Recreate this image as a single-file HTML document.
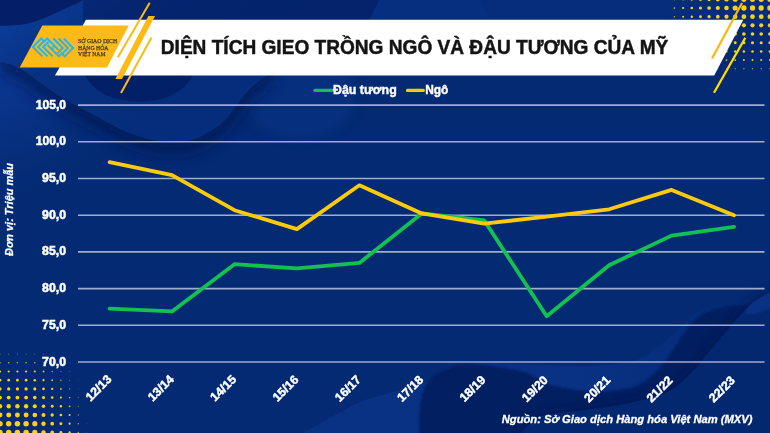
<!DOCTYPE html>
<html><head><meta charset="utf-8"><title>Chart</title>
<style>
html,body{margin:0;padding:0;background:#032a72;}
body{width:770px;height:433px;overflow:hidden;font-family:"Liberation Sans",sans-serif;}
svg{display:block}
text{font-family:"Liberation Sans",sans-serif;}
</style></head><body>
<svg width="770" height="433" viewBox="0 0 770 433" style="opacity:0.999">
<defs>
<filter id="b1" x="-20%" y="-20%" width="140%" height="140%"><feGaussianBlur stdDeviation="1.2"/></filter>
<filter id="b3" x="-20%" y="-20%" width="140%" height="140%"><feGaussianBlur stdDeviation="4"/></filter>
<linearGradient id="gl" gradientUnits="userSpaceOnUse" x1="20" y1="10" x2="120" y2="150"><stop offset="0" stop-color="#0c3c98"/><stop offset="0.35" stop-color="#073181"/><stop offset="1" stop-color="#052d7b"/></linearGradient>
<radialGradient id="lg" gradientUnits="userSpaceOnUse" cx="0" cy="75" r="150"><stop offset="0" stop-color="#0b3893"/><stop offset="0.45" stop-color="#083284" stop-opacity="0.7"/><stop offset="1" stop-color="#032a72" stop-opacity="0"/></radialGradient>
<linearGradient id="gB" gradientUnits="userSpaceOnUse" x1="580" y1="0" x2="700" y2="0"><stop offset="0" stop-color="#0a3386" stop-opacity="0.85"/><stop offset="1" stop-color="#0a3386" stop-opacity="0.3"/></linearGradient>
<clipPath id="clipW"><path d="M518.0,436.0 C520.0,434.0 525.5,427.5 530.0,424.0 C534.5,420.5 535.7,417.3 545.0,415.0 C554.3,412.7 571.8,412.0 586.0,410.0 C600.2,408.0 616.2,406.2 630.0,403.0 C643.8,399.8 658.7,396.2 669.0,391.0 C679.3,385.8 684.9,379.0 692.0,372.0 C699.1,365.0 705.0,356.7 711.5,349.0 C718.0,341.3 724.4,333.5 731.0,326.0 C737.6,318.5 743.7,310.0 751.0,304.0 C758.3,298.0 771.0,292.3 775.0,290.0 L775,440 L518,440 Z"/></clipPath>
<filter id="b8" x="-30%" y="-30%" width="160%" height="160%"><feGaussianBlur stdDeviation="8"/></filter>
<filter id="b05"><feGaussianBlur stdDeviation="0.6"/></filter>
<filter id="b6" x="-30%" y="-30%" width="160%" height="160%"><feGaussianBlur stdDeviation="6"/></filter>
</defs>
<rect width="770" height="433" fill="#032a72"/>
<!-- background shapes -->
<g id="bgshapes">
<!-- glows -->
<rect x="0" y="40" width="200" height="200" fill="url(#lg)"/>
<ellipse cx="300" cy="95" rx="55" ry="45" fill="#0a3a94" opacity="0.35" filter="url(#b6)"/>
<!-- top strip -->
<path d="M379,0 H481 L492,22 H368 Z" fill="#0a3488" opacity="0.5"/>
<!-- bowl shadow -->
<path d="M0,62 C14,64 24,70 36,80 C55,94 72,104 91,113.5 C110,124 124,132 138,136 C150,140 160,142 171,142 C184,142 195,140 204,135 C218,128 226,120 233,110 C242,98 248,90 254.5,85 C260,80 265,76 272,74 L272,40 L0,40 Z" transform="translate(0,11)" fill="#021450" opacity="0.7" filter="url(#b8)"/>
<!-- bowl -->
<path d="M0,25.5 C10,25.5 18,25 25,24 C35,22 43,19 51,15 C62,10 70,6 76,4 L83,0 L770,0 L770,22 L272,74 C265,76 260,80 254.5,85 C248,90 242,98 233,110 C226,120 218,128 204,135 C195,140 184,142 171,142 C160,142 150,140 138,136 C124,132 110,124 91,113.5 C72,104 55,94 36,80 C24,70 14,64 0,62 Z" fill="url(#gl)"/>
<path d="M0,0 H83 L76,4 C70,6 62,10 51,15 C43,19 35,22 25,24 C18,25 10,25.5 0,25.5 Z" fill="#041f66"/>
<path d="M83,0 H379 L368,22 H83 Z" fill="#031c60" opacity="0.55"/>
<path d="M379,0 H481 L492,22 H368 Z" fill="#0a3488" opacity="0.45"/>
<!-- inner dark shape under banner -->
<path d="M80,60 C84,88 108,102 140,101.5 C172,101 193,88 198,60 Z" fill="#03195a" opacity="0.6" filter="url(#b05)"/>
<!-- bottom light hill B -->
<path d="M298.0,436.0 C303.3,433.0 319.7,423.7 330.0,418.0 C340.3,412.3 350.0,406.2 360.0,402.0 C370.0,397.8 380.0,395.8 390.0,393.0 C400.0,390.2 410.0,388.7 420.0,385.0 C430.0,381.3 441.2,374.7 450.0,371.0 C458.8,367.3 459.7,364.1 473.0,363.0 C486.3,361.9 510.2,364.0 530.0,364.5 C549.8,365.0 574.8,366.6 592.0,366.0 C609.2,365.4 622.5,363.8 633.0,361.0 C643.5,358.2 647.3,354.3 655.0,349.0 C662.7,343.7 672.3,334.8 679.0,329.0 C685.7,323.2 689.2,318.3 695.0,314.5 C700.8,310.7 706.8,308.0 714.0,306.0 C721.2,304.0 731.7,303.3 738.0,302.5 C744.3,301.7 745.8,302.1 752.0,301.0 C758.2,299.9 771.2,296.8 775.0,296.0 L775,440 L300,440 Z" fill="url(#gB)"/>
<!-- dark C -->
<path d="M419.0,436.0 C419.3,430.3 419.2,411.3 421.0,402.0 C422.8,392.7 424.8,385.7 430.0,380.0 C435.2,374.3 444.8,370.6 452.0,368.0 C459.2,365.4 461.7,364.0 473.0,364.5 C484.3,365.0 507.5,367.8 520.0,371.0 C532.5,374.2 538.8,380.8 548.0,384.0 C557.2,387.2 565.0,388.8 575.0,390.0 C585.0,391.2 597.3,391.8 608.0,391.0 C618.7,390.2 630.1,389.2 639.0,385.0 C647.9,380.8 655.0,373.0 661.5,366.0 C668.0,359.0 673.1,349.5 677.7,343.0 C682.3,336.5 685.1,331.6 689.0,327.0 C692.9,322.4 696.1,318.5 700.8,315.4 C705.5,312.3 710.5,310.2 717.0,308.5 C723.5,306.8 730.3,305.8 740.0,305.0 C749.7,304.2 769.2,304.2 775.0,304.0 L775,440 L419,440 Z" fill="#031a5c" opacity="0.85" filter="url(#b1)"/>
<!-- D -->
<path d="M518.0,436.0 C520.0,434.0 525.5,427.5 530.0,424.0 C534.5,420.5 535.7,417.3 545.0,415.0 C554.3,412.7 571.8,412.0 586.0,410.0 C600.2,408.0 616.2,406.2 630.0,403.0 C643.8,399.8 658.7,396.2 669.0,391.0 C679.3,385.8 684.9,379.0 692.0,372.0 C699.1,365.0 705.0,356.7 711.5,349.0 C718.0,341.3 724.4,333.5 731.0,326.0 C737.6,318.5 743.7,310.0 751.0,304.0 C758.3,298.0 771.0,292.3 775.0,290.0 L775,440 L518,440 Z" transform="translate(-2,-3)" fill="#021350" opacity="0.5" filter="url(#b3)"/>
<path d="M518.0,436.0 C520.0,434.0 525.5,427.5 530.0,424.0 C534.5,420.5 535.7,417.3 545.0,415.0 C554.3,412.7 571.8,412.0 586.0,410.0 C600.2,408.0 616.2,406.2 630.0,403.0 C643.8,399.8 658.7,396.2 669.0,391.0 C679.3,385.8 684.9,379.0 692.0,372.0 C699.1,365.0 705.0,356.7 711.5,349.0 C718.0,341.3 724.4,333.5 731.0,326.0 C737.6,318.5 743.7,310.0 751.0,304.0 C758.3,298.0 771.0,292.3 775.0,290.0 L775,440 L518,440 Z" fill="#04286f"/>
<g clip-path="url(#clipW)"><ellipse cx="772" cy="298" rx="30" ry="8" transform="rotate(-30 772 298)" fill="#0c3688" opacity="0.8" filter="url(#b1)"/></g>
</g>
<!-- dots -->
<g fill="#fdd017">
<circle cx="674.4" cy="-0.7" r="0.87" opacity="0.87"/>
<circle cx="683.1" cy="-0.7" r="1.11" opacity="1.00"/>
<circle cx="691.8" cy="-0.7" r="1.35" opacity="1.00"/>
<circle cx="700.5" cy="-0.7" r="1.60" opacity="1.00"/>
<circle cx="709.1" cy="-0.7" r="1.84" opacity="1.00"/>
<circle cx="717.8" cy="-0.7" r="2.08" opacity="1.00"/>
<circle cx="726.5" cy="-0.7" r="2.32" opacity="1.00"/>
<circle cx="735.2" cy="-0.7" r="2.56" opacity="1.00"/>
<circle cx="743.9" cy="-0.7" r="2.65" opacity="1.00"/>
<circle cx="752.5" cy="-0.7" r="2.65" opacity="1.00"/>
<circle cx="761.2" cy="-0.7" r="2.65" opacity="1.00"/>
<circle cx="769.9" cy="-0.7" r="2.65" opacity="1.00"/>
<circle cx="674.4" cy="8.0" r="0.87" opacity="0.87"/>
<circle cx="683.1" cy="8.0" r="1.11" opacity="1.00"/>
<circle cx="691.8" cy="8.0" r="1.35" opacity="1.00"/>
<circle cx="700.5" cy="8.0" r="1.60" opacity="1.00"/>
<circle cx="709.1" cy="8.0" r="1.84" opacity="1.00"/>
<circle cx="717.8" cy="8.0" r="2.08" opacity="1.00"/>
<circle cx="726.5" cy="8.0" r="2.32" opacity="1.00"/>
<circle cx="735.2" cy="8.0" r="2.56" opacity="1.00"/>
<circle cx="743.9" cy="8.0" r="2.65" opacity="1.00"/>
<circle cx="752.5" cy="8.0" r="2.65" opacity="1.00"/>
<circle cx="761.2" cy="8.0" r="2.65" opacity="1.00"/>
<circle cx="769.9" cy="8.0" r="2.65" opacity="1.00"/>
<circle cx="674.4" cy="16.7" r="0.78" opacity="0.78"/>
<circle cx="683.1" cy="16.7" r="1.00" opacity="1.00"/>
<circle cx="691.8" cy="16.7" r="1.21" opacity="1.00"/>
<circle cx="700.5" cy="16.7" r="1.43" opacity="1.00"/>
<circle cx="709.1" cy="16.7" r="1.65" opacity="1.00"/>
<circle cx="717.8" cy="16.7" r="1.86" opacity="1.00"/>
<circle cx="726.5" cy="16.7" r="2.08" opacity="1.00"/>
<circle cx="735.2" cy="16.7" r="2.29" opacity="1.00"/>
<circle cx="743.9" cy="16.7" r="2.37" opacity="1.00"/>
<circle cx="752.5" cy="16.7" r="2.37" opacity="1.00"/>
<circle cx="761.2" cy="16.7" r="2.37" opacity="1.00"/>
<circle cx="769.9" cy="16.7" r="2.37" opacity="1.00"/>
<circle cx="674.4" cy="25.3" r="0.69" opacity="0.69"/>
<circle cx="683.1" cy="25.3" r="0.88" opacity="0.88"/>
<circle cx="691.8" cy="25.3" r="1.07" opacity="1.00"/>
<circle cx="700.5" cy="25.3" r="1.26" opacity="1.00"/>
<circle cx="709.1" cy="25.3" r="1.45" opacity="1.00"/>
<circle cx="717.8" cy="25.3" r="1.64" opacity="1.00"/>
<circle cx="726.5" cy="25.3" r="1.83" opacity="1.00"/>
<circle cx="735.2" cy="25.3" r="2.03" opacity="1.00"/>
<circle cx="743.9" cy="25.3" r="2.10" opacity="1.00"/>
<circle cx="752.5" cy="25.3" r="2.10" opacity="1.00"/>
<circle cx="761.2" cy="25.3" r="2.10" opacity="1.00"/>
<circle cx="769.9" cy="25.3" r="2.10" opacity="1.00"/>
<circle cx="674.4" cy="34.0" r="0.60" opacity="0.60"/>
<circle cx="683.1" cy="34.0" r="0.76" opacity="0.76"/>
<circle cx="691.8" cy="34.0" r="0.93" opacity="0.93"/>
<circle cx="700.5" cy="34.0" r="1.09" opacity="1.00"/>
<circle cx="709.1" cy="34.0" r="1.26" opacity="1.00"/>
<circle cx="717.8" cy="34.0" r="1.43" opacity="1.00"/>
<circle cx="726.5" cy="34.0" r="1.59" opacity="1.00"/>
<circle cx="735.2" cy="34.0" r="1.76" opacity="1.00"/>
<circle cx="743.9" cy="34.0" r="1.82" opacity="1.00"/>
<circle cx="752.5" cy="34.0" r="1.82" opacity="1.00"/>
<circle cx="761.2" cy="34.0" r="1.82" opacity="1.00"/>
<circle cx="769.9" cy="34.0" r="1.82" opacity="1.00"/>
<circle cx="674.4" cy="42.7" r="0.51" opacity="0.51"/>
<circle cx="683.1" cy="42.7" r="0.65" opacity="0.65"/>
<circle cx="691.8" cy="42.7" r="0.79" opacity="0.79"/>
<circle cx="700.5" cy="42.7" r="0.93" opacity="0.93"/>
<circle cx="709.1" cy="42.7" r="1.07" opacity="1.00"/>
<circle cx="717.8" cy="42.7" r="1.21" opacity="1.00"/>
<circle cx="726.5" cy="42.7" r="1.35" opacity="1.00"/>
<circle cx="735.2" cy="42.7" r="1.49" opacity="1.00"/>
<circle cx="743.9" cy="42.7" r="1.54" opacity="1.00"/>
<circle cx="752.5" cy="42.7" r="1.54" opacity="1.00"/>
<circle cx="761.2" cy="42.7" r="1.54" opacity="1.00"/>
<circle cx="769.9" cy="42.7" r="1.54" opacity="1.00"/>
<circle cx="674.4" cy="51.4" r="0.41" opacity="0.41"/>
<circle cx="683.1" cy="51.4" r="0.53" opacity="0.53"/>
<circle cx="691.8" cy="51.4" r="0.64" opacity="0.64"/>
<circle cx="700.5" cy="51.4" r="0.76" opacity="0.76"/>
<circle cx="709.1" cy="51.4" r="0.87" opacity="0.87"/>
<circle cx="717.8" cy="51.4" r="0.99" opacity="0.99"/>
<circle cx="726.5" cy="51.4" r="1.10" opacity="1.00"/>
<circle cx="735.2" cy="51.4" r="1.22" opacity="1.00"/>
<circle cx="743.9" cy="51.4" r="1.26" opacity="1.00"/>
<circle cx="752.5" cy="51.4" r="1.26" opacity="1.00"/>
<circle cx="761.2" cy="51.4" r="1.26" opacity="1.00"/>
<circle cx="769.9" cy="51.4" r="1.26" opacity="1.00"/>
<circle cx="683.1" cy="60.1" r="0.41" opacity="0.41"/>
<circle cx="691.8" cy="60.1" r="0.50" opacity="0.50"/>
<circle cx="700.5" cy="60.1" r="0.59" opacity="0.59"/>
<circle cx="709.1" cy="60.1" r="0.68" opacity="0.68"/>
<circle cx="717.8" cy="60.1" r="0.77" opacity="0.77"/>
<circle cx="726.5" cy="60.1" r="0.86" opacity="0.86"/>
<circle cx="735.2" cy="60.1" r="0.95" opacity="0.95"/>
<circle cx="743.9" cy="60.1" r="0.98" opacity="0.98"/>
<circle cx="752.5" cy="60.1" r="0.98" opacity="0.98"/>
<circle cx="761.2" cy="60.1" r="0.98" opacity="0.98"/>
<circle cx="769.9" cy="60.1" r="0.98" opacity="0.98"/>
<circle cx="691.8" cy="68.7" r="0.36" opacity="0.36"/>
<circle cx="700.5" cy="68.7" r="0.43" opacity="0.43"/>
<circle cx="709.1" cy="68.7" r="0.49" opacity="0.49"/>
<circle cx="717.8" cy="68.7" r="0.55" opacity="0.55"/>
<circle cx="726.5" cy="68.7" r="0.62" opacity="0.62"/>
<circle cx="735.2" cy="68.7" r="0.68" opacity="0.68"/>
<circle cx="743.9" cy="68.7" r="0.71" opacity="0.71"/>
<circle cx="752.5" cy="68.7" r="0.71" opacity="0.71"/>
<circle cx="761.2" cy="68.7" r="0.71" opacity="0.71"/>
<circle cx="769.9" cy="68.7" r="0.71" opacity="0.71"/>
<circle cx="0.0" cy="432.4" r="2.75" opacity="1.00"/>
<circle cx="8.7" cy="432.4" r="2.75" opacity="1.00"/>
<circle cx="17.4" cy="432.4" r="2.75" opacity="1.00"/>
<circle cx="26.1" cy="432.4" r="2.75" opacity="1.00"/>
<circle cx="34.8" cy="432.4" r="2.59" opacity="1.00"/>
<circle cx="43.5" cy="432.4" r="2.22" opacity="1.00"/>
<circle cx="52.2" cy="432.4" r="1.86" opacity="1.00"/>
<circle cx="60.9" cy="432.4" r="1.49" opacity="1.00"/>
<circle cx="69.6" cy="432.4" r="1.13" opacity="1.00"/>
<circle cx="78.3" cy="432.4" r="0.76" opacity="0.76"/>
<circle cx="87.0" cy="432.4" r="0.39" opacity="0.39"/>
<circle cx="0.0" cy="423.7" r="2.75" opacity="1.00"/>
<circle cx="8.7" cy="423.7" r="2.75" opacity="1.00"/>
<circle cx="17.4" cy="423.7" r="2.75" opacity="1.00"/>
<circle cx="26.1" cy="423.7" r="2.75" opacity="1.00"/>
<circle cx="34.8" cy="423.7" r="2.59" opacity="1.00"/>
<circle cx="43.5" cy="423.7" r="2.22" opacity="1.00"/>
<circle cx="52.2" cy="423.7" r="1.86" opacity="1.00"/>
<circle cx="60.9" cy="423.7" r="1.49" opacity="1.00"/>
<circle cx="69.6" cy="423.7" r="1.12" opacity="1.00"/>
<circle cx="78.3" cy="423.7" r="0.76" opacity="0.76"/>
<circle cx="87.0" cy="423.7" r="0.39" opacity="0.39"/>
<circle cx="0.0" cy="415.0" r="2.47" opacity="1.00"/>
<circle cx="8.7" cy="415.0" r="2.47" opacity="1.00"/>
<circle cx="17.4" cy="415.0" r="2.47" opacity="1.00"/>
<circle cx="26.1" cy="415.0" r="2.47" opacity="1.00"/>
<circle cx="34.8" cy="415.0" r="2.33" opacity="1.00"/>
<circle cx="43.5" cy="415.0" r="2.00" opacity="1.00"/>
<circle cx="52.2" cy="415.0" r="1.67" opacity="1.00"/>
<circle cx="60.9" cy="415.0" r="1.34" opacity="1.00"/>
<circle cx="69.6" cy="415.0" r="1.01" opacity="1.00"/>
<circle cx="78.3" cy="415.0" r="0.68" opacity="0.68"/>
<circle cx="87.0" cy="415.0" r="0.35" opacity="0.35"/>
<circle cx="0.0" cy="406.3" r="2.20" opacity="1.00"/>
<circle cx="8.7" cy="406.3" r="2.20" opacity="1.00"/>
<circle cx="17.4" cy="406.3" r="2.20" opacity="1.00"/>
<circle cx="26.1" cy="406.3" r="2.20" opacity="1.00"/>
<circle cx="34.8" cy="406.3" r="2.07" opacity="1.00"/>
<circle cx="43.5" cy="406.3" r="1.78" opacity="1.00"/>
<circle cx="52.2" cy="406.3" r="1.48" opacity="1.00"/>
<circle cx="60.9" cy="406.3" r="1.19" opacity="1.00"/>
<circle cx="69.6" cy="406.3" r="0.90" opacity="0.90"/>
<circle cx="78.3" cy="406.3" r="0.61" opacity="0.61"/>
<circle cx="87.0" cy="406.3" r="0.31" opacity="0.31"/>
<circle cx="0.0" cy="397.6" r="1.92" opacity="1.00"/>
<circle cx="8.7" cy="397.6" r="1.92" opacity="1.00"/>
<circle cx="17.4" cy="397.6" r="1.92" opacity="1.00"/>
<circle cx="26.1" cy="397.6" r="1.92" opacity="1.00"/>
<circle cx="34.8" cy="397.6" r="1.81" opacity="1.00"/>
<circle cx="43.5" cy="397.6" r="1.55" opacity="1.00"/>
<circle cx="52.2" cy="397.6" r="1.30" opacity="1.00"/>
<circle cx="60.9" cy="397.6" r="1.04" opacity="1.00"/>
<circle cx="69.6" cy="397.6" r="0.79" opacity="0.79"/>
<circle cx="78.3" cy="397.6" r="0.53" opacity="0.53"/>
<circle cx="0.0" cy="388.9" r="1.65" opacity="1.00"/>
<circle cx="8.7" cy="388.9" r="1.65" opacity="1.00"/>
<circle cx="17.4" cy="388.9" r="1.65" opacity="1.00"/>
<circle cx="26.1" cy="388.9" r="1.65" opacity="1.00"/>
<circle cx="34.8" cy="388.9" r="1.55" opacity="1.00"/>
<circle cx="43.5" cy="388.9" r="1.33" opacity="1.00"/>
<circle cx="52.2" cy="388.9" r="1.11" opacity="1.00"/>
<circle cx="60.9" cy="388.9" r="0.89" opacity="0.89"/>
<circle cx="69.6" cy="388.9" r="0.67" opacity="0.67"/>
<circle cx="78.3" cy="388.9" r="0.46" opacity="0.46"/>
<circle cx="0.0" cy="380.2" r="1.37" opacity="1.00"/>
<circle cx="8.7" cy="380.2" r="1.37" opacity="1.00"/>
<circle cx="17.4" cy="380.2" r="1.37" opacity="1.00"/>
<circle cx="26.1" cy="380.2" r="1.37" opacity="1.00"/>
<circle cx="34.8" cy="380.2" r="1.29" opacity="1.00"/>
<circle cx="43.5" cy="380.2" r="1.11" opacity="1.00"/>
<circle cx="52.2" cy="380.2" r="0.93" opacity="0.93"/>
<circle cx="60.9" cy="380.2" r="0.74" opacity="0.74"/>
<circle cx="69.6" cy="380.2" r="0.56" opacity="0.56"/>
<circle cx="78.3" cy="380.2" r="0.38" opacity="0.38"/>
<circle cx="0.0" cy="371.5" r="1.10" opacity="1.00"/>
<circle cx="8.7" cy="371.5" r="1.10" opacity="1.00"/>
<circle cx="17.4" cy="371.5" r="1.10" opacity="1.00"/>
<circle cx="26.1" cy="371.5" r="1.10" opacity="1.00"/>
<circle cx="34.8" cy="371.5" r="1.03" opacity="1.00"/>
<circle cx="43.5" cy="371.5" r="0.89" opacity="0.89"/>
<circle cx="52.2" cy="371.5" r="0.74" opacity="0.74"/>
<circle cx="60.9" cy="371.5" r="0.60" opacity="0.60"/>
<circle cx="69.6" cy="371.5" r="0.45" opacity="0.45"/>
<circle cx="78.3" cy="371.5" r="0.30" opacity="0.30"/>
<circle cx="0.0" cy="362.8" r="0.82" opacity="0.82"/>
<circle cx="8.7" cy="362.8" r="0.82" opacity="0.82"/>
<circle cx="17.4" cy="362.8" r="0.82" opacity="0.82"/>
<circle cx="26.1" cy="362.8" r="0.82" opacity="0.82"/>
<circle cx="34.8" cy="362.8" r="0.77" opacity="0.77"/>
<circle cx="43.5" cy="362.8" r="0.67" opacity="0.67"/>
<circle cx="52.2" cy="362.8" r="0.56" opacity="0.56"/>
<circle cx="60.9" cy="362.8" r="0.45" opacity="0.45"/>
<circle cx="69.6" cy="362.8" r="0.34" opacity="0.34"/>
<circle cx="0.0" cy="354.1" r="0.55" opacity="0.55"/>
<circle cx="8.7" cy="354.1" r="0.55" opacity="0.55"/>
<circle cx="17.4" cy="354.1" r="0.55" opacity="0.55"/>
<circle cx="26.1" cy="354.1" r="0.55" opacity="0.55"/>
<circle cx="34.8" cy="354.1" r="0.52" opacity="0.52"/>
<circle cx="43.5" cy="354.1" r="0.44" opacity="0.44"/>
<circle cx="52.2" cy="354.1" r="0.37" opacity="0.37"/>
</g>
<!-- banner -->
<polygon points="85.9,19.8 743.3,19.8 714.2,75.6 55,75.6" fill="#ffffff"/>
<polygon points="42.3,25.5 128.8,25.5 107,67.6 19.7,67.6" fill="#fbba18"/>
<g stroke="#fbbb12" stroke-linecap="butt">
<line x1="149.7" y1="2.8" x2="117.9" y2="57.2" stroke-width="2"/>
<polygon points="148.4,16 155,16 122,79 115.4,79" fill="#fbbb12" stroke="none"/>
<line x1="151.5" y1="37.4" x2="121" y2="92.9" stroke-width="2"/>
<line x1="742" y1="3" x2="712" y2="58.4" stroke-width="2.2" stroke="#fbb80c"/>
<line x1="745.3" y1="37.7" x2="714" y2="92.7" stroke-width="2.3" stroke="#ffdc00"/>
</g>
<text x="160.8" y="54.3" font-size="21" font-weight="bold" fill="#141414" stroke="#141414" stroke-width="0.5" textLength="507.5" lengthAdjust="spacingAndGlyphs">DIỆN TÍCH GIEO TRỒNG NGÔ VÀ ĐẬU TƯƠNG CỦA MỸ</text>
<!-- logo -->
<g id="logo">
<g fill="none" stroke="#2bb4ea" stroke-width="2.0" stroke-linejoin="miter" stroke-linecap="butt">
<polyline points="42.29,56.38 32.87,46.96 41.31,38.52 44.23,41.44 47.16,38.52 58.52,49.88"/>
<polyline points="47.48,56.38 38.06,46.96 43.58,41.44"/>
<polyline points="52.68,56.38 43.26,46.96 48.78,41.44"/>
<polyline points="63.71,38.52 73.13,47.94 64.69,56.38 61.77,53.45 58.84,56.38 47.48,45.01"/>
<polyline points="58.52,38.52 67.94,47.94 62.42,53.45"/>
<polyline points="53.32,38.52 62.74,47.94 57.22,53.45"/>
<path d="M53.00,45.69 L54.75,47.45 L53.00,49.20 L51.25,47.45 Z" fill="#2bb4ea" stroke="none"/><circle cx="53.00" cy="47.45" r="0.6" fill="#fbba18" stroke="none"/>
</g>
<g font-size="6.7" fill="#3f331e" stroke="#3f331e" stroke-width="0.25" style="font-family:'Liberation Serif',serif">
<text x="78.1" y="43.4" textLength="39" lengthAdjust="spacingAndGlyphs" style="font-family:'Liberation Serif',serif">SỞ GIAO DỊCH</text>
<text x="78.1" y="49.6" textLength="30.4" lengthAdjust="spacingAndGlyphs" style="font-family:'Liberation Serif',serif">HÀNG HÓA</text>
<text x="78.1" y="55.9" textLength="27.3" lengthAdjust="spacingAndGlyphs" style="font-family:'Liberation Serif',serif">VIỆT NAM</text>
</g>
</g>
<!-- legend -->
<line x1="315" y1="90.4" x2="331.7" y2="90.4" stroke="#12c152" stroke-width="3.2" stroke-linecap="round"/>
<text x="333" y="94.1" font-size="12.1" font-weight="bold" fill="#fff" stroke="#fff" stroke-width="0.4" textLength="63.7" lengthAdjust="spacingAndGlyphs">Đậu tương</text>
<line x1="407.5" y1="90.4" x2="423.3" y2="90.4" stroke="#fdcb0c" stroke-width="3.2" stroke-linecap="round"/>
<text x="425.2" y="94.1" font-size="12.1" font-weight="bold" fill="#fff" stroke="#fff" stroke-width="0.4" textLength="23.2" lengthAdjust="spacingAndGlyphs">Ngô</text>
<!-- grid -->
<g stroke="#9fadcf" stroke-width="1.6">
<line x1="78" y1="105.1" x2="764.5" y2="105.1"/><line x1="78" y1="141.8" x2="764.5" y2="141.8"/><line x1="78" y1="178.5" x2="764.5" y2="178.5"/><line x1="78" y1="215.2" x2="764.5" y2="215.2"/><line x1="78" y1="251.9" x2="764.5" y2="251.9"/><line x1="78" y1="288.6" x2="764.5" y2="288.6"/><line x1="78" y1="325.3" x2="764.5" y2="325.3"/><line x1="78" y1="362.0" x2="764.5" y2="362.0"/>
</g>
<g font-size="11.9" font-weight="bold" fill="#fff" stroke="#fff" stroke-width="0.5" text-anchor="end">
<text x="66.1" y="108.6" textLength="30.4" lengthAdjust="spacingAndGlyphs">105,0</text><text x="66.1" y="145.3" textLength="30.4" lengthAdjust="spacingAndGlyphs">100,0</text><text x="66.1" y="182.0" textLength="24.0" lengthAdjust="spacingAndGlyphs">95,0</text><text x="66.1" y="218.7" textLength="24.0" lengthAdjust="spacingAndGlyphs">90,0</text><text x="66.1" y="255.4" textLength="24.0" lengthAdjust="spacingAndGlyphs">85,0</text><text x="66.1" y="292.1" textLength="24.0" lengthAdjust="spacingAndGlyphs">80,0</text><text x="66.1" y="328.8" textLength="24.0" lengthAdjust="spacingAndGlyphs">75,0</text><text x="66.1" y="365.5" textLength="24.0" lengthAdjust="spacingAndGlyphs">70,0</text>
</g>
<text transform="translate(13.2,209.5) rotate(-90)" font-size="10.7" font-weight="bold" font-style="italic" fill="#fff" stroke="#fff" stroke-width="0.25" text-anchor="middle" textLength="93" lengthAdjust="spacingAndGlyphs">Đơn vị: Triệu mẫu</text>
<!-- lines -->
<polyline points="109.6,308.6 172.0,311.4 234.5,264.2 296.9,268.4 359.4,262.9 421.8,213.4 484.2,220.4 546.7,316.2 609.1,265.2 671.6,235.6 734.0,226.8" fill="none" stroke="#12c152" stroke-width="3.8" stroke-linejoin="round" stroke-linecap="round"/>
<polyline points="109.6,162.2 172.0,175.1 234.5,210.2 296.9,229.1 359.4,185.3 421.8,213.4 484.2,223.6 546.7,216.7 609.1,209.3 671.6,189.9 734.0,215.3" fill="none" stroke="#fdcb0c" stroke-width="3.8" stroke-linejoin="round" stroke-linecap="round"/>
<!-- x labels -->
<g font-size="12.1" font-weight="bold" fill="#fff" stroke="#fff" stroke-width="0.45" text-anchor="end">
<text transform="translate(112.3,380.0) rotate(-45)" textLength="31" lengthAdjust="spacingAndGlyphs">12/13</text><text transform="translate(174.6,380.1) rotate(-45)" textLength="31" lengthAdjust="spacingAndGlyphs">13/14</text><text transform="translate(237.0,380.2) rotate(-45)" textLength="31" lengthAdjust="spacingAndGlyphs">14/15</text><text transform="translate(299.3,380.4) rotate(-45)" textLength="31" lengthAdjust="spacingAndGlyphs">15/16</text><text transform="translate(361.7,380.5) rotate(-45)" textLength="31" lengthAdjust="spacingAndGlyphs">16/17</text><text transform="translate(424.0,380.6) rotate(-45)" textLength="31" lengthAdjust="spacingAndGlyphs">17/18</text><text transform="translate(486.3,380.7) rotate(-45)" textLength="31" lengthAdjust="spacingAndGlyphs">18/19</text><text transform="translate(548.7,380.8) rotate(-45)" textLength="31" lengthAdjust="spacingAndGlyphs">19/20</text><text transform="translate(611.0,381.0) rotate(-45)" textLength="31" lengthAdjust="spacingAndGlyphs">20/21</text><text transform="translate(673.4,381.1) rotate(-45)" textLength="31" lengthAdjust="spacingAndGlyphs">21/22</text><text transform="translate(735.7,381.2) rotate(-45)" textLength="31" lengthAdjust="spacingAndGlyphs">22/23</text>
</g>
<text x="752.5" y="422.5" font-size="11.2" font-weight="bold" font-style="italic" fill="#fff" stroke="#fff" stroke-width="0.3" text-anchor="end">Nguồn: Sở Giao dịch Hàng hóa Việt Nam (MXV)</text>
</svg>
</body></html>
